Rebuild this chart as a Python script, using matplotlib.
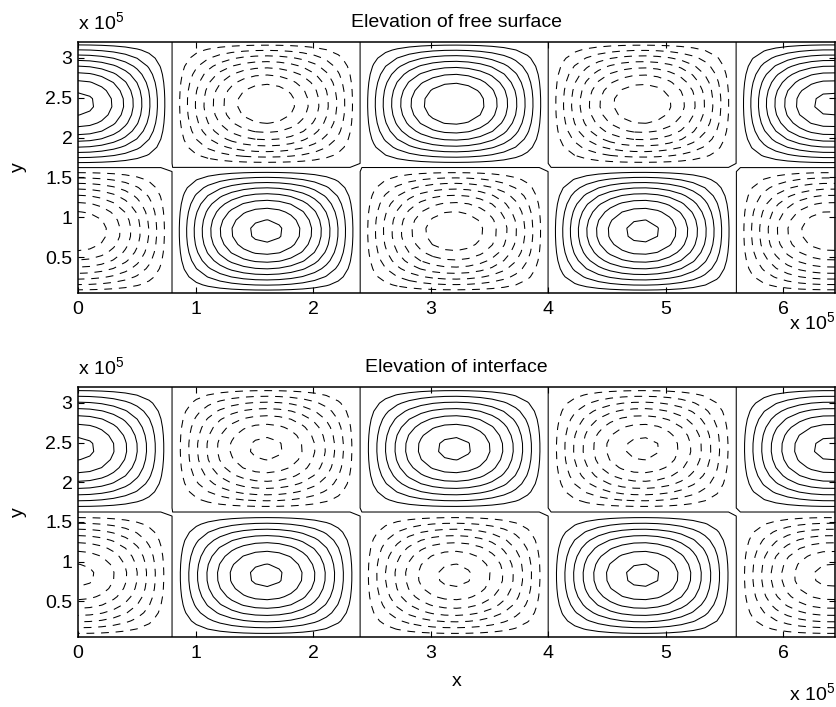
import numpy as np
import matplotlib
matplotlib.use("Agg")
import matplotlib.pyplot as plt
from matplotlib.ticker import FuncFormatter

plt.rcParams["font.family"] = ["Liberation Sans", "DejaVu Sans"]
plt.rcParams["mathtext.fontset"] = "custom"
plt.rcParams["mathtext.rm"] = "Liberation Sans"

# ------------------------------------------------------------
# Data (lengths in units of 1e5 m)
# ------------------------------------------------------------
x_centres = [0.0, 1.6, 3.2, 4.8, 6.4]      # cell centres along x
y_centres = [0.825, 2.425]                  # cell centres along y
cell_size = 1.6                             # width/height of one cell

# amplitude of each cell, rows = y_centres, columns = x_centres
amp_surface = [[-0.95, 1.00, -0.95, 1.00, -0.95],
               [1.00, -0.95, 0.962, -0.95, 1.00]]
amp_interface = [[-1.00, 1.00, -1.00, 1.00, -1.00],
                 [1.00, -1.00, 1.00, -1.00, 1.00]]

levels_surface = [-0.96, -0.84, -0.72, -0.60, -0.48, -0.36, -0.24, -0.12, 0.0,
                  0.12, 0.24, 0.36, 0.48, 0.60, 0.72, 0.84, 0.96]
levels_interface = [-0.959, -0.822, -0.685, -0.548, -0.411, -0.274, -0.137, 0.0,
                    0.137, 0.274, 0.411, 0.548, 0.685, 0.822, 0.959]

x_range = (0.0, 6.44)
y_range = (0.05, 3.2)

x_ticks = [0, 1, 2, 3, 4, 5, 6]
y_ticks = [0.5, 1, 1.5, 2, 2.5, 3]

titles = ["Elevation of free surface", "Elevation of interface"]

FS = 14


def build_field(amps, x, y):
    X, Y = np.meshgrid(x, y)
    Z = np.zeros_like(X)
    half = cell_size / 2
    for j, yc in enumerate(y_centres):
        for i, xc in enumerate(x_centres):
            inside = (np.abs(X - xc) <= half) & (np.abs(Y - yc) <= half)
            bump = np.cos(np.pi * (X - xc) / cell_size) * np.cos(np.pi * (Y - yc) / cell_size)
            Z = np.where(inside, amps[j][i] * bump, Z)
    return X, Y, Z


x_grid = np.linspace(x_range[0], x_range[1], 65)
y_grid = np.linspace(y_range[0], y_range[1], 32)

fig = plt.figure(figsize=(8.37, 7.07), dpi=100)
ax_top = fig.add_axes([0.0932, 0.5856, 0.9044, 0.355])
ax_bot = fig.add_axes([0.0932, 0.0990, 0.9044, 0.3536])

fmt = FuncFormatter(lambda v, p: f"{v:g}")

for ax, amps, levels, title, off in [(ax_top, amp_surface, levels_surface, titles[0], -0.075),
                                     (ax_bot, amp_interface, levels_interface, titles[1], -0.18)]:
    X, Y, Z = build_field(amps, x_grid, y_grid)
    styles = [(0, (7.5, 6.5)) if lv < 0 else "solid" for lv in levels]
    ax.contour(X, Y, Z, levels=levels, colors="k", linewidths=0.75,
               linestyles=styles)
    ax.set_xlim(*x_range)
    ax.set_ylim(*y_range)
    ax.set_xticks(x_ticks)
    ax.set_yticks(y_ticks)
    ax.xaxis.set_major_formatter(fmt)
    ax.yaxis.set_major_formatter(fmt)
    ax.tick_params(direction="in", top=True, right=True, length=4.5,
                   width=0.8, labelsize=FS)
    ax.tick_params(axis="x", pad=6)
    ax.tick_params(axis="y", pad=4)
    for s in ax.spines.values():
        s.set_linewidth(1.1)
    ax.set_title(title, fontsize=FS, pad=11)
    ax.set_ylabel("y", fontsize=FS, labelpad=13)
    # MATLAB style exponent labels
    ax.text(0.0, 1.03, r"x 10$^{\mathregular{5}}$", transform=ax.transAxes,
            fontsize=FS, ha="left", va="bottom")
    ax.text(1.0, off, r"x 10$^{\mathregular{5}}$", transform=ax.transAxes,
            fontsize=FS, ha="right", va="top")

ax_bot.set_xlabel("x", fontsize=FS, labelpad=8)

fig.savefig("out.png", dpi=100)
